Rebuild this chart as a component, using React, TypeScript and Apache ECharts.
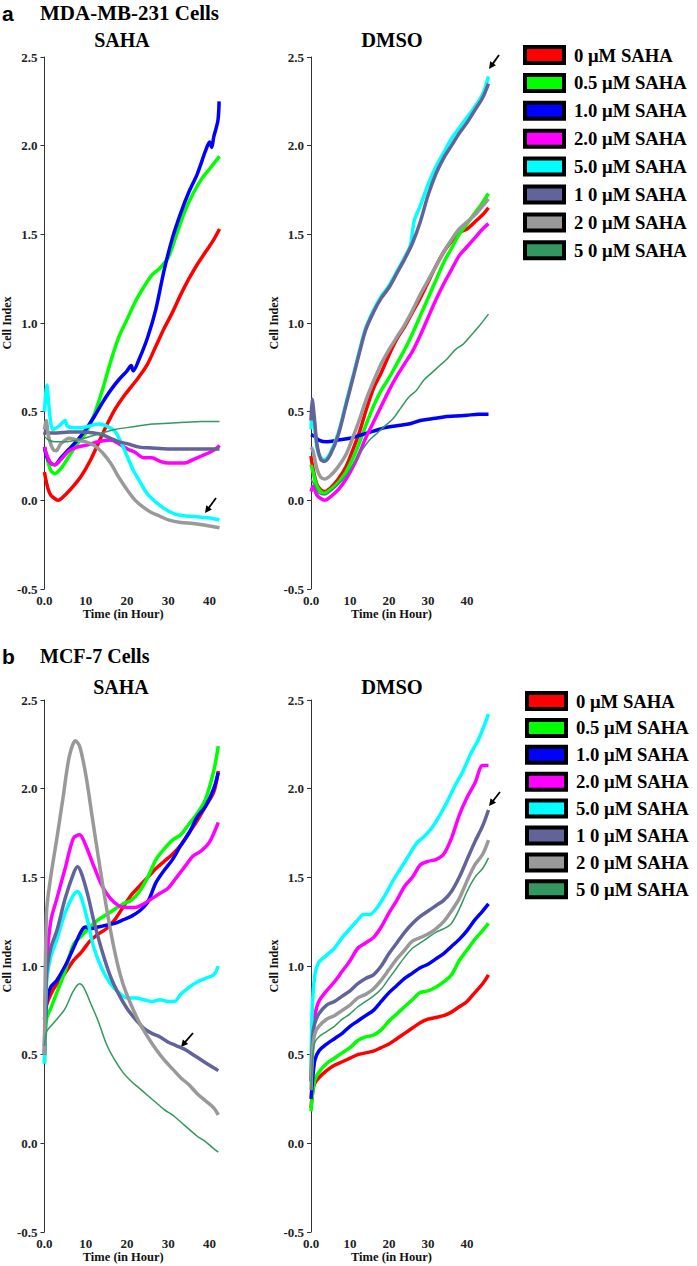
import React, { useEffect, useRef } from 'react';
import * as echarts from 'echarts';

const SERIF = '"Liberation Serif", "Times New Roman", serif';
const SANS = '"Liberation Sans", Arial, sans-serif';

const NAMES = ['0 μM SAHA', '0.5 μM SAHA', '1.0 μM SAHA', '2.0 μM SAHA', '5.0 μM SAHA', '1 0 μM SAHA', '2 0 μM SAHA', '5 0 μM SAHA'];
const COLORS = ['#ff0000', '#00ff00', '#0000ff', '#ff00ff', '#00ffff', '#626398', '#999999', '#329860'];
const WIDTHS = [3.5, 3.5, 3.5, 3.5, 3.5, 3.5, 3.5, 1.5];
const Y_TICKS = [-0.5, 0.0, 0.5, 1.0, 1.5, 2.0, 2.5];
const X_TICKS = [0, 10, 20, 30, 40];

// ---- (a) MDA-MB-231, SAHA ----
const aSaha0 = [[0,0.16],[0.3,0.12],[0.8,0.07],[1.5,0.03],[2.5,0.01],[3.3,0.0],[5,0.03],[7,0.08],[9,0.14],[11,0.22],[13,0.32],[15,0.42],[17,0.51],[19,0.58],[21,0.64],[23,0.70],[25,0.77],[27,0.87],[29,0.97],[31,1.06],[33,1.16],[35,1.25],[37,1.33],[39,1.40],[41,1.47],[42.4,1.53]];
const aSaha05 = [[0,0.30],[0.5,0.25],[1.5,0.17],[2.5,0.15],[4,0.18],[6,0.25],[8,0.32],[10,0.38],[12,0.48],[14,0.62],[16,0.78],[18,0.92],[20,1.02],[22,1.12],[24,1.20],[26,1.27],[28,1.31],[30,1.37],[32,1.50],[34,1.63],[36,1.73],[38,1.81],[40,1.87],[42.4,1.94]];
const aSaha1 = [[0,0.30],[0.5,0.25],[1.5,0.21],[2.5,0.20],[4,0.24],[6,0.29],[8,0.34],[10,0.40],[12,0.47],[14,0.55],[16,0.62],[18,0.68],[20,0.73],[21,0.76],[21.5,0.73],[23,0.80],[25,0.92],[27,1.08],[29,1.30],[31,1.48],[33,1.62],[35,1.74],[37,1.84],[39,1.97],[40,2.02],[40.5,1.99],[41,2.05],[42,2.14],[42.3,2.25]];
const aSaha2 = [[0,0.30],[0.5,0.26],[1.5,0.21],[2.5,0.20],[4,0.23],[6,0.28],[8,0.30],[10,0.31],[13,0.33],[16,0.34],[18,0.32],[20,0.29],[22,0.27],[24,0.24],[26,0.24],[28,0.22],[30,0.21],[32,0.21],[34,0.21],[36,0.23],[38,0.25],[40,0.27],[41.5,0.29],[42.4,0.31]];
const aSaha5 = [[0,0.50],[0.3,0.60],[0.6,0.65],[1,0.55],[1.5,0.44],[2,0.40],[3,0.41],[4,0.43],[5,0.45],[5.5,0.42],[7,0.41],[9,0.41],[11,0.42],[13,0.43],[15,0.42],[17,0.39],[18.5,0.33],[20,0.25],[21.5,0.17],[23,0.11],[24.5,0.05],[26,0.01],[28,-0.03],[30,-0.06],[32,-0.08],[35,-0.09],[38,-0.095],[40,-0.10],[42.4,-0.11]];
const aSaha10 = [[0,0.37],[0.5,0.40],[1,0.38],[3,0.38],[6,0.385],[9,0.385],[12,0.38],[14,0.37],[16,0.35],[18,0.33],[20,0.32],[23,0.30],[26,0.295],[30,0.29],[34,0.29],[38,0.29],[42.4,0.29]];
const aSaha20 = [[0,0.40],[0.4,0.45],[1,0.36],[2,0.29],[2.8,0.28],[4,0.32],[6,0.35],[8,0.34],[10,0.33],[12,0.31],[14,0.27],[16,0.21],[18,0.13],[20,0.06],[22,0.0],[24,-0.04],[26,-0.07],[28,-0.09],[30,-0.11],[33,-0.125],[36,-0.13],[39,-0.14],[42.4,-0.155]];
const aSaha50 = [[0,0.36],[1,0.34],[2.5,0.33],[5,0.33],[8,0.34],[11,0.36],[14,0.38],[17,0.40],[20,0.41],[23,0.42],[26,0.43],[30,0.435],[34,0.44],[38,0.445],[42.4,0.445]];

// ---- (a) MDA-MB-231, DMSO ----
const aDmso0 = [[0,0.25],[0.5,0.18],[1.5,0.09],[2.5,0.06],[3.5,0.05],[5,0.07],[7,0.12],[9,0.19],[11,0.30],[12.5,0.39],[14,0.50],[16,0.63],[18,0.72],[20,0.82],[22,0.91],[24,0.98],[26,1.06],[28,1.14],[30,1.23],[32,1.32],[34,1.40],[36,1.46],[38,1.51],[40,1.53],[42,1.57],[44,1.61],[45.5,1.65]];
const aDmso05 = [[0,0.20],[0.5,0.16],[1.5,0.08],[2.5,0.05],[3.5,0.04],[5,0.06],[7,0.10],[9,0.16],[11,0.25],[12.5,0.33],[14,0.42],[16,0.53],[18,0.62],[20,0.69],[22,0.77],[24,0.85],[26,0.94],[28,1.04],[30,1.14],[32,1.24],[34,1.34],[36,1.42],[38,1.50],[40,1.56],[42,1.62],[44,1.68],[45.5,1.73]];
const aDmso1 = [[0,0.37],[1,0.36],[2,0.34],[4,0.33],[7,0.34],[10,0.35],[13,0.37],[16,0.39],[19,0.41],[22,0.42],[25,0.43],[28,0.45],[31,0.46],[34,0.47],[37,0.475],[40,0.48],[43,0.485],[45.5,0.485]];
const aDmso2 = [[0,0.05],[0.5,0.08],[1.5,0.03],[2.5,0.01],[3.5,0.0],[5,0.02],[7,0.06],[9,0.12],[11,0.20],[12.5,0.27],[14,0.35],[16,0.44],[18,0.53],[20,0.62],[22,0.70],[24,0.77],[26,0.84],[28,0.93],[30,1.03],[32,1.13],[34,1.22],[36,1.30],[38,1.38],[40,1.43],[42,1.48],[44,1.53],[45.5,1.56]];
const aDmso5 = [[0,0.40],[0.3,0.50],[0.8,0.45],[1.5,0.30],[2.5,0.24],[3.5,0.23],[5,0.27],[7,0.38],[9,0.55],[11,0.72],[12.5,0.85],[14,0.97],[16,1.07],[18,1.15],[20,1.21],[22,1.29],[24,1.37],[25.5,1.44],[26.5,1.58],[28,1.66],[30,1.78],[32,1.88],[34,1.96],[36,2.04],[38,2.10],[40,2.16],[42,2.22],[44,2.29],[45.5,2.39]];
const aDmso10 = [[0,0.45],[0.3,0.57],[0.8,0.48],[1.5,0.32],[2.5,0.23],[3.5,0.22],[5,0.26],[7,0.37],[9,0.54],[11,0.71],[12.5,0.84],[14,0.96],[16,1.06],[18,1.14],[20,1.20],[22,1.28],[24,1.36],[26,1.45],[28,1.57],[30,1.72],[32,1.84],[34,1.93],[36,2.00],[38,2.07],[40,2.13],[42,2.20],[44,2.27],[45.5,2.35]];
const aDmso20 = [[0,0.30],[0.5,0.28],[1.5,0.18],[2.5,0.13],[3.5,0.12],[5,0.14],[7,0.19],[9,0.26],[11,0.37],[12.5,0.46],[14,0.56],[16,0.67],[18,0.77],[20,0.85],[22,0.92],[24,0.99],[26,1.07],[28,1.16],[30,1.24],[32,1.32],[34,1.40],[36,1.47],[38,1.53],[40,1.57],[42,1.61],[44,1.66],[45.5,1.70]];
const aDmso50 = [[0,0.12],[1,0.08],[2,0.04],[3.5,0.03],[5,0.05],[7,0.09],[9,0.14],[11,0.21],[13,0.28],[15,0.34],[17,0.38],[19,0.42],[21,0.46],[23,0.52],[25,0.58],[27,0.62],[29,0.68],[31,0.72],[33,0.76],[35,0.80],[37,0.85],[39,0.88],[41,0.93],[43,0.98],[45.5,1.05]];

// ---- (b) MCF-7, SAHA ----
const bSaha0 = [[0,0.70],[0.5,0.78],[1.5,0.84],[3,0.90],[5,0.96],[7,1.03],[9,1.08],[11,1.14],[13,1.18],[15,1.21],[17,1.26],[19,1.33],[21,1.40],[23,1.45],[25,1.50],[27,1.55],[29,1.59],[31,1.63],[33,1.68],[35,1.75],[37,1.82],[39,1.90],[41,1.98],[42.1,2.10]];
const bSaha05 = [[0,0.45],[0.5,0.70],[1.5,0.76],[3,0.85],[5,0.97],[7,1.12],[9,1.17],[11,1.22],[13,1.26],[15,1.29],[17,1.32],[19,1.35],[21,1.37],[23,1.42],[25,1.50],[27,1.60],[29,1.66],[31,1.71],[33,1.74],[35,1.80],[37,1.86],[39,1.94],[41,2.10],[42.1,2.24]];
const bSaha1 = [[0,0.50],[0.5,0.80],[1.5,0.88],[3,0.92],[5,1.00],[7,1.10],[9,1.20],[10,1.22],[11,1.21],[13,1.22],[15,1.23],[17,1.24],[19,1.26],[21,1.28],[23,1.31],[25,1.36],[27,1.47],[29,1.54],[31,1.60],[33,1.68],[35,1.75],[37,1.84],[39,1.90],[41,2.00],[42.1,2.09]];
const bSaha2 = [[0,0.55],[0.5,1.00],[1.5,1.25],[3,1.38],[5,1.55],[7,1.72],[8.5,1.74],[10,1.68],[12,1.56],[14,1.45],[16,1.38],[18,1.34],[20,1.33],[22,1.33],[24,1.35],[26,1.38],[28,1.41],[30,1.44],[32,1.50],[34,1.56],[36,1.62],[38,1.65],[40,1.70],[42.1,1.81]];
const bSaha5 = [[0,0.45],[0.5,0.90],[1.5,1.05],[3,1.15],[5,1.30],[7,1.40],[8,1.42],[9,1.38],[10.5,1.25],[12,1.10],[14,0.98],[16,0.90],[18,0.85],[20,0.82],[22,0.82],[24,0.81],[26,0.80],[28,0.81],[30,0.80],[31.5,0.80],[33,0.84],[35,0.88],[37,0.91],[39,0.93],[41,0.95],[42.1,1.00]];
const bSaha10 = [[0,0.50],[0.5,0.95],[1.5,1.10],[3,1.20],[5,1.38],[7,1.52],[8,1.56],[9,1.52],[10.5,1.40],[12,1.25],[14,1.08],[16,0.94],[18,0.84],[20,0.76],[22,0.70],[24,0.65],[26,0.62],[28,0.60],[30,0.57],[32,0.55],[34,0.53],[36,0.50],[38,0.47],[40,0.44],[42.1,0.41]];
const bSaha20 = [[0,0.50],[0.5,1.30],[1.5,1.50],[3,1.72],[4.5,1.95],[6,2.18],[7.5,2.27],[8.5,2.24],[10,2.08],[11.5,1.85],[13,1.62],[14.5,1.40],[16,1.20],[17.5,1.03],[19,0.90],[21,0.78],[23,0.68],[25,0.60],[27,0.53],[29,0.47],[31,0.42],[33,0.37],[35,0.33],[37,0.28],[39,0.24],[41,0.20],[42.1,0.16]];
const bSaha50 = [[0,0.55],[0.5,0.63],[1.5,0.66],[3,0.70],[5,0.76],[7,0.86],[8.5,0.90],[9.5,0.88],[11,0.80],[13,0.69],[15,0.56],[17,0.47],[19,0.40],[21,0.35],[23,0.31],[25,0.27],[27,0.23],[29,0.19],[31,0.16],[33,0.12],[35,0.08],[37,0.04],[39,0.01],[41,-0.03],[42.1,-0.05]];

// ---- (b) MCF-7, DMSO ----
const bDmso0 = [[0,0.20],[0.5,0.30],[1,0.34],[2,0.37],[4,0.41],[6,0.44],[8,0.46],[10,0.48],[12,0.50],[14,0.51],[16,0.52],[18,0.54],[20,0.56],[22,0.59],[24,0.62],[26,0.65],[28,0.68],[30,0.70],[32,0.71],[34,0.72],[36,0.74],[38,0.77],[40,0.80],[42,0.85],[44,0.90],[45.5,0.95]];
const bDmso05 = [[0,0.18],[0.5,0.30],[1,0.36],[2,0.40],[4,0.45],[6,0.48],[8,0.51],[10,0.54],[12,0.58],[14,0.60],[16,0.61],[18,0.64],[20,0.69],[22,0.73],[24,0.77],[26,0.81],[28,0.85],[30,0.86],[32,0.88],[34,0.91],[36,0.95],[38,1.03],[40,1.09],[42,1.15],[44,1.20],[45.5,1.24]];
const bDmso1 = [[0,0.25],[0.5,0.38],[1,0.47],[2,0.52],[4,0.56],[6,0.59],[8,0.62],[10,0.66],[12,0.69],[14,0.72],[16,0.75],[18,0.80],[20,0.85],[22,0.89],[24,0.93],[26,0.96],[28,0.99],[30,1.01],[32,1.04],[34,1.07],[36,1.11],[38,1.15],[40,1.20],[42,1.26],[44,1.31],[45.5,1.35]];
const bDmso2 = [[0,0.35],[0.5,0.60],[1,0.72],[2,0.80],[4,0.86],[6,0.91],[8,0.97],[10,1.03],[12,1.10],[14,1.13],[16,1.16],[18,1.22],[20,1.30],[22,1.37],[24,1.45],[26,1.50],[28,1.57],[30,1.59],[32,1.60],[34,1.63],[36,1.72],[38,1.85],[40,1.95],[42,2.03],[44,2.13],[45.5,2.13]];
const bDmso5 = [[0,0.40],[0.3,0.75],[1,0.95],[2,1.02],[4,1.06],[6,1.10],[8,1.16],[10,1.21],[12,1.26],[13.5,1.29],[15,1.29],[17,1.33],[19,1.40],[21,1.48],[23,1.55],[25,1.62],[27,1.69],[29,1.73],[31,1.78],[33,1.85],[35,1.93],[37,2.02],[39,2.10],[41,2.20],[43,2.28],[45.5,2.42]];
const bDmso10 = [[0,0.35],[0.5,0.62],[1,0.68],[2,0.73],[4,0.78],[6,0.80],[8,0.83],[10,0.86],[12,0.90],[14,0.93],[16,0.95],[18,1.00],[20,1.07],[22,1.13],[24,1.19],[26,1.24],[28,1.28],[30,1.31],[32,1.34],[34,1.37],[36,1.42],[38,1.50],[40,1.60],[42,1.70],[44,1.79],[45.5,1.88]];
const bDmso20 = [[0,0.30],[0.5,0.55],[1,0.62],[2,0.66],[4,0.70],[6,0.72],[8,0.75],[10,0.78],[12,0.82],[14,0.84],[16,0.87],[18,0.92],[20,0.98],[22,1.04],[24,1.09],[26,1.14],[28,1.16],[30,1.18],[32,1.21],[34,1.25],[36,1.31],[38,1.38],[40,1.48],[42,1.57],[44,1.63],[45.5,1.71]];
const bDmso50 = [[0,0.30],[0.5,0.50],[1,0.57],[2,0.60],[4,0.63],[6,0.66],[8,0.70],[10,0.73],[12,0.77],[14,0.80],[16,0.83],[18,0.87],[20,0.93],[22,0.99],[24,1.05],[26,1.10],[28,1.13],[30,1.16],[32,1.19],[34,1.21],[36,1.24],[38,1.32],[40,1.42],[42,1.50],[44,1.55],[45.5,1.61]];

const PANEL_DATA = [
  [aSaha0, aSaha05, aSaha1, aSaha2, aSaha5, aSaha10, aSaha20, aSaha50],
  [aDmso0, aDmso05, aDmso1, aDmso2, aDmso5, aDmso10, aDmso20, aDmso50],
  [bSaha0, bSaha05, bSaha1, bSaha2, bSaha5, bSaha10, bSaha20, bSaha50],
  [bDmso0, bDmso05, bDmso1, bDmso2, bDmso5, bDmso10, bDmso20, bDmso50],
];

// layout (pixels) — separate from the data
const PANEL_LAYOUT = [
  { left: 42, top: 57, width: 180, height: 532, xMax: 43 },
  { left: 311, top: 57, width: 181, height: 532, xMax: 46.4 },
  { left: 42, top: 700, width: 180, height: 532, xMax: 43 },
  { left: 311, top: 700, width: 181, height: 532, xMax: 46.4 },
];

const ARROWS = [
  [216, 498, 205, 513],
  [499, 55, 489, 69],
  [193, 1033, 181, 1047],
  [500, 792, 489, 806],
];

function arrowEls(tx: number, ty: number, hx: number, hy: number) {
  const dx = hx - tx, dy = hy - ty;
  const len = Math.sqrt(dx * dx + dy * dy);
  const ux = dx / len, uy = dy / len;
  const px = -uy, py = ux;
  const hl = 7, hw = 3.5;
  const bx = hx - ux * hl, by = hy - uy * hl;
  return [
    { type: 'line', shape: { x1: tx, y1: ty, x2: bx + ux * 1, y2: by + uy * 1 }, style: { stroke: '#000', lineWidth: 1.8 } },
    { type: 'polygon', shape: { points: [[hx, hy], [bx + px * hw, by + py * hw], [bx - px * hw, by - py * hw]] }, style: { fill: '#000' } },
  ];
}

function textEl(text: string, x: number, y: number, size: number, family: string) {
  return {
    type: 'text',
    x, y,
    style: {
      text, fill: '#000', font: `bold ${size}px ${family}`,
      textAlign: 'left', align: 'left', textVerticalAlign: 'middle', verticalAlign: 'middle',
    },
  };
}
function ctextEl(text: string, cx: number, y: number, size: number, family: string) {
  return {
    type: 'text',
    x: cx, y,
    style: {
      text, fill: '#000', font: `bold ${size}px ${family}`,
      textAlign: 'center', align: 'center', textVerticalAlign: 'middle', verticalAlign: 'middle',
    },
  };
}

export default function App() {
  const ref = useRef<HTMLDivElement>(null);
  useEffect(() => {
    document.body.style.margin = '0';
    const chart = echarts.init(ref.current!, null, { renderer: 'svg' });
    const grids = PANEL_LAYOUT.map((p) => ({ left: p.left, top: p.top, width: p.width, height: p.height, containLabel: false }));
    const xAxes = PANEL_LAYOUT.map((p, i) => ({
      gridIndex: i, type: 'value', min: 0, max: p.xMax, interval: 10,
      name: 'Time (in Hour)', nameLocation: 'middle', nameGap: 17,
      nameTextStyle: { fontFamily: SERIF, fontWeight: 'bold', fontSize: 12.5, color: '#111', padding: [0, 20, 0, 0] },
      axisLine: { show: false, onZero: false },
      axisTick: { show: false },
      axisLabel: {
        formatter: (v: number) => (X_TICKS.includes(v) ? (v === 0 ? '0.0' : String(v)) : ''),
        showMaxLabel: false, margin: 5, fontFamily: SERIF, fontWeight: 'bold', fontSize: 13, color: '#222',
      },
      splitLine: { show: false },
    }));
    const yAxes = PANEL_LAYOUT.map((p, i) => ({
      gridIndex: i, type: 'value', min: Y_TICKS[0], max: Y_TICKS[Y_TICKS.length - 1], interval: 0.5,
      name: 'Cell Index', nameLocation: 'middle', nameGap: 26, nameRotate: 90,
      nameTextStyle: { fontFamily: SERIF, fontWeight: 'bold', fontSize: 12, color: '#111' },
      axisLine: { show: true, onZero: false, lineStyle: { color: '#333', width: 1 } },
      axisTick: { show: true, length: 4, lineStyle: { color: '#333' } },
      axisLabel: { formatter: (v: number) => v.toFixed(1), margin: 7, fontFamily: SERIF, fontWeight: 'bold', fontSize: 13, color: '#222' },
      splitLine: { show: false },
    }));
    const series: any[] = [];
    PANEL_DATA.forEach((panel, pi) => {
      panel.forEach((data, si) => {
        series.push({
          type: 'line', name: NAMES[si], xAxisIndex: pi, yAxisIndex: pi, data,
          showSymbol: false, smooth: 0.3, clip: false,
          lineStyle: { color: COLORS[si], width: WIDTHS[si] },
          itemStyle: { color: COLORS[si] },
          z: 2 + (si === 7 ? 1 : 0),
        });
      });
    });
    const legendBase = {
      orient: 'vertical', icon: 'rect', itemWidth: 39, itemHeight: 16, padding: 0,
      itemStyle: { borderColor: '#000', borderWidth: 4 },
      textStyle: { fontFamily: SERIF, fontWeight: 'bold', fontSize: 18.7, color: '#000', padding: [0, 0, 0, 5] },
      data: NAMES, selectedMode: false,
    };
    const graphics: any[] = [
      { type: 'text', x: 2, y: 13, style: { text: 'a', fill: '#000', font: `bold 21px ${SANS}`, textVerticalAlign: 'middle', verticalAlign: 'middle' } },
      textEl('MDA-MB-231 Cells', 40, 13, 21, SERIF),
      ctextEl('SAHA', 122, 40, 20, SERIF),
      ctextEl('DMSO', 392, 40, 20.5, SERIF),
      { type: 'text', x: 2, y: 656, style: { text: 'b', fill: '#000', font: `bold 21px ${SANS}`, textVerticalAlign: 'middle', verticalAlign: 'middle' } },
      textEl('MCF-7 Cells', 40, 656, 20, SERIF),
      ctextEl('SAHA', 121, 687, 20, SERIF),
      ctextEl('DMSO', 392, 687, 20.5, SERIF),
    ];
    ARROWS.forEach((a) => graphics.push(...arrowEls(a[0], a[1], a[2], a[3])));
    chart.setOption({
      animation: false,
      backgroundColor: '#fff',
      grid: grids,
      xAxis: xAxes,
      yAxis: yAxes,
      series,
      legend: [
        { ...legendBase, left: 523, top: 45, itemGap: 7.9 },
        { ...legendBase, left: 525, top: 691, itemGap: 6.9 },
      ],
      graphic: graphics,
    });
    return () => chart.dispose();
  }, []);
  return <div ref={ref} style={{ position: 'absolute', left: 0, top: 0, width: 697, height: 1266 }} />;
}
